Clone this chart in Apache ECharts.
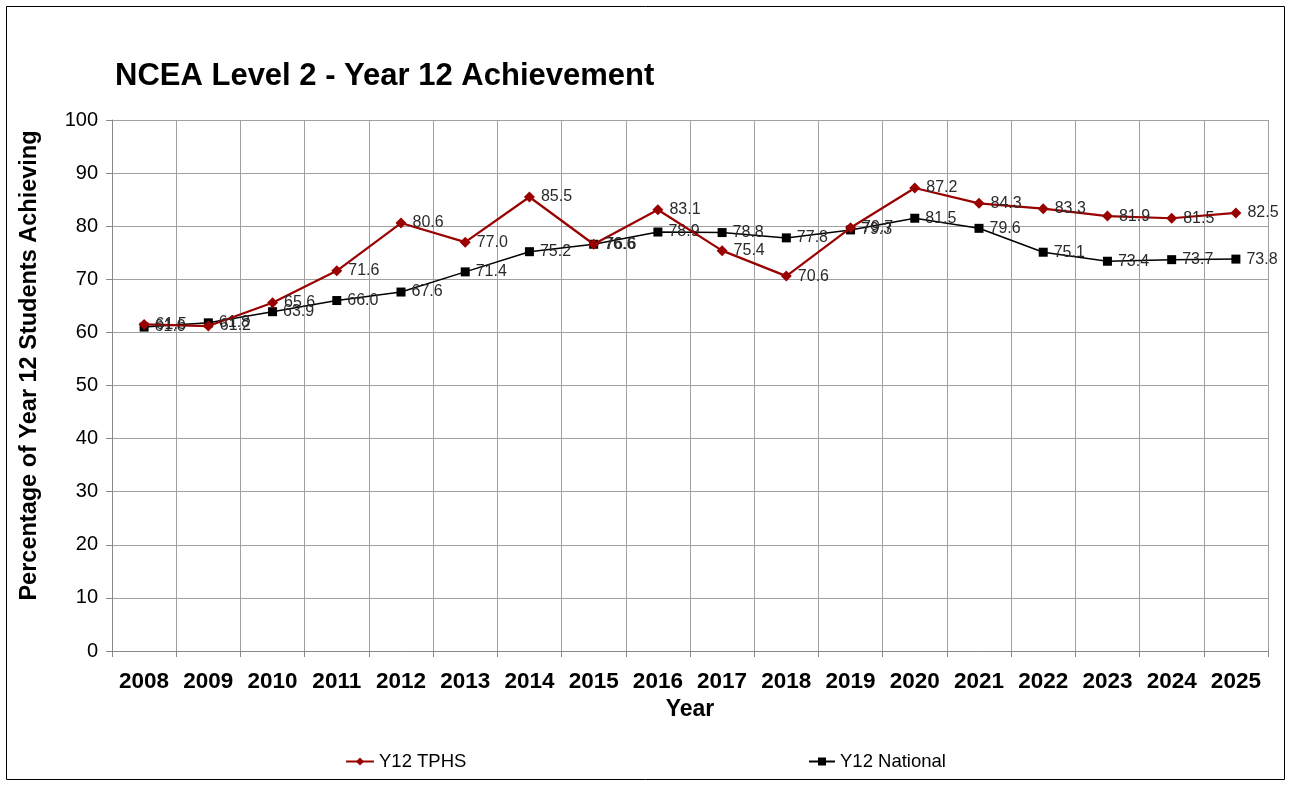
<!DOCTYPE html>
<html><head><meta charset="utf-8">
<script src="https://cdn.jsdelivr.net/npm/echarts@6/dist/echarts.min.js"></script>
<style>html,body{margin:0;padding:0;background:#fff}#c{width:1290px;height:785px}</style>
</head><body><div id="c"></div>
<script>
const years = ['2008','2009','2010','2011','2012','2013','2014','2015','2016','2017','2018','2019','2020','2021','2022','2023','2024','2025'];
const tphs = [61.5,61.2,65.6,71.6,80.6,77.0,85.5,76.6,83.1,75.4,70.6,79.7,87.2,84.3,83.3,81.9,81.5,82.5];
const national = [61.0,61.8,63.9,66.0,67.6,71.4,75.2,76.6,78.9,78.8,77.8,79.3,81.5,79.6,75.1,73.4,73.7,73.8];
const yTicks = [0,10,20,30,40,50,60,70,80,90,100];

const FF = '"Liberation Sans", Arial, sans-serif';
const chart = echarts.init(document.getElementById('c'));
const lbl = {show:true, position:'right', distance:6, fontFamily:FF, fontSize:16, color:'#2a2a2a', formatter:p=>p.value.toFixed(1)};
chart.setOption({
  animation:false,
  graphic:[{type:'rect', shape:{x:6.5,y:6.5,width:1278,height:773}, style:{fill:'none', stroke:'#000', lineWidth:1}}],
  title:{text:'NCEA Level 2 - Year 12 Achievement', left:110, top:56, textStyle:{fontFamily:FF, fontSize:31, fontWeight:'bold', color:'#000'}},
  legend:[
    {data:['Y12 TPHS'], left:345, top:752, padding:0, itemWidth:28, itemHeight:10, itemGap:2, textStyle:{fontFamily:FF, fontSize:18.5, color:'#000'}},
    {data:['Y12 National'], left:808, top:752, padding:0, itemWidth:26, itemHeight:10, itemGap:2, textStyle:{fontFamily:FF, fontSize:18.5, color:'#000'}}
  ],
  grid:{left:112, right:22, top:120, bottom:134, containLabel:false},
  xAxis:{type:'category', data:years, boundaryGap:true,
    name:'Year', nameLocation:'middle', nameGap:47, nameTextStyle:{fontFamily:FF, fontSize:23, fontWeight:'bold', color:'#000'},
    axisLine:{lineStyle:{color:'#888'}}, axisTick:{show:true, length:6, lineStyle:{color:'#888'}},
    axisLabel:{fontFamily:FF, fontSize:22.5, fontWeight:'bold', color:'#000', margin:19, interval:0},
    splitLine:{show:true, lineStyle:{color:'#a0a0a0', width:1}}},
  yAxis:{type:'value', min:yTicks[0], max:yTicks[yTicks.length-1], interval:10,
    name:'Percentage of Year 12 Students Achieving', nameLocation:'middle', nameGap:70, nameRotate:90,
    nameTextStyle:{fontFamily:FF, fontSize:23.5, fontWeight:'bold', color:'#000', padding:[0,0,0,40]},
    axisLine:{show:true, lineStyle:{color:'#888'}}, axisTick:{show:true, length:6, lineStyle:{color:'#888'}},
    axisLabel:{fontFamily:FF, fontSize:20, color:'#000', margin:14},
    splitLine:{show:true, lineStyle:{color:'#a0a0a0', width:1}}},
  series:[
    {name:'Y12 TPHS', type:'line', data:tphs, symbol:'diamond', symbolSize:11, color:'#990000',
     lineStyle:{width:2.2, color:'#990000'}, itemStyle:{color:'#990000'}, label:lbl, z:3},
    {name:'Y12 National', type:'line', data:national, symbol:'rect', symbolSize:9, color:'#000',
     lineStyle:{width:1.5, color:'#000'}, itemStyle:{color:'#000'}, label:lbl, z:2}
  ]
});
</script></body></html>
